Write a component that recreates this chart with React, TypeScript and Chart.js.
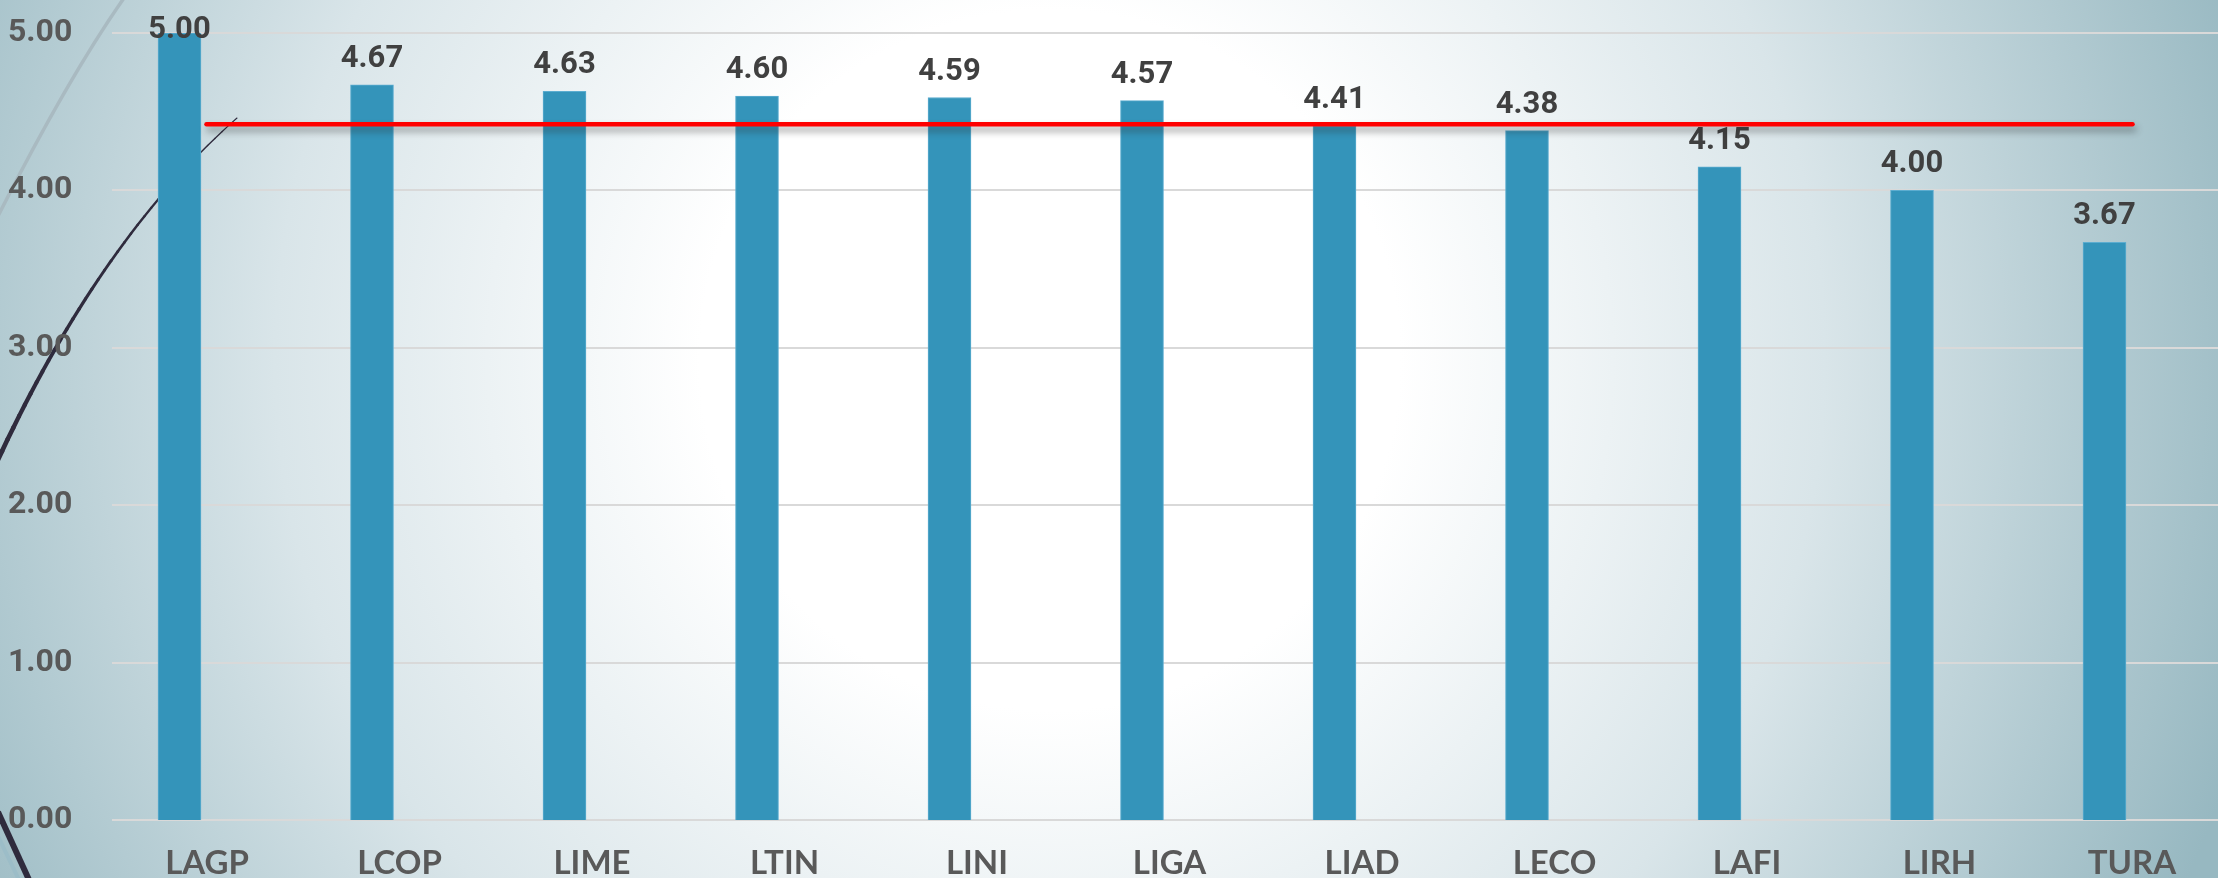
import React, { useEffect, useRef } from "react";
import { Chart, registerables } from "chart.js";
Chart.register(...registerables);

const CATEGORIES = ["LAGP", "LCOP", "LIME", "LTIN", "LINI", "LIGA", "LIAD", "LECO", "LAFI", "LIRH", "TURA"];
const SCORES = [5.0, 4.67, 4.63, 4.6, 4.59, 4.57, 4.41, 4.38, 4.15, 4.0, 3.67];
const Y_TICKS = [0, 1, 2, 3, 4, 5];
const AVERAGE_LINE = 4.42;

const W = 2218;
const H = 878;

export default function App() {
  const ref = useRef<HTMLCanvasElement>(null);

  useEffect(() => {
    const canvas = ref.current!;

    const bgPlugin = {
      id: "bgDecor",
      beforeDraw(chart: any) {
        const { ctx, width, height } = chart;
        ctx.save();
        const g = ctx.createRadialGradient(1050, 360, 0, 1050, 360, 1250);
        g.addColorStop(0, "#ffffff");
        g.addColorStop(0.28, "#ffffff");
        g.addColorStop(0.62, "#d9e5e9");
        g.addColorStop(1, "#97b8c1");
        ctx.fillStyle = g;
        ctx.fillRect(0, 0, width, height);

        // light gray arc top-left
        ctx.strokeStyle = "#a9bac1";
        ctx.lineWidth = 3.5;
        ctx.beginPath();
        ctx.moveTo(124, -2);
        ctx.quadraticCurveTo(68, 78, -2, 216);
        ctx.stroke();

        // dark tapered curve
        const p0 = [-20, 500];
        const c = [88, 250];
        const p1 = [237, 118];
        const N = 40;
        ctx.strokeStyle = "#2f2b3d";
        ctx.lineCap = "round";
        for (let i = 0; i < N; i++) {
          const t0 = i / N;
          const t1 = (i + 1) / N;
          const q = (t: number, k: number) =>
            (1 - t) * (1 - t) * p0[k] + 2 * (1 - t) * t * c[k] + t * t * p1[k];
          ctx.lineWidth = 5 - 4 * t0;
          ctx.beginPath();
          ctx.moveTo(q(t0, 0), q(t0, 1));
          ctx.lineTo(q(t1, 0), q(t1, 1));
          ctx.stroke();
        }

        // bottom-left lines
        ctx.lineCap = "butt";
        ctx.strokeStyle = "#9cbdc8";
        ctx.lineWidth = 4;
        ctx.beginPath();
        ctx.moveTo(-6, 828);
        ctx.lineTo(20, 882);
        ctx.stroke();
        ctx.strokeStyle = "#2f2b3d";
        ctx.lineWidth = 6;
        ctx.beginPath();
        ctx.moveTo(-2, 812);
        ctx.lineTo(30, 882);
        ctx.stroke();
        ctx.restore();
      },
      beforeDatasetsDraw(chart: any) {
        const { ctx } = chart;
        const y = chart.scales.y;
        ctx.save();
        ctx.strokeStyle = "#d9d9d9";
        ctx.lineWidth = 2;
        for (const v of Y_TICKS) {
          const py = Math.round(y.getPixelForValue(v));
          ctx.beginPath();
          ctx.moveTo(112, py);
          ctx.lineTo(W, py);
          ctx.stroke();
        }
        ctx.restore();
      },
      afterDatasetsDraw(chart: any) {
        const { ctx } = chart;
        const meta = chart.getDatasetMeta(0);
        ctx.save();
        ctx.fillStyle = "#404040";
        ctx.font = "bold 31px Roboto";
        ctx.textAlign = "center";
        ctx.textBaseline = "alphabetic";
        meta.data.forEach((el: any, i: number) => {
          const by = Math.max(el.y - 18, 38);
          ctx.fillText(SCORES[i].toFixed(2), el.x, by);
        });

        // average line
        const xs = chart.scales.x;
        const ys = chart.scales.y;
        const ly = ys.getPixelForValue(AVERAGE_LINE);
        const x0 = xs.getPixelForValue(0) + 27;
        const x1 = xs.getPixelForValue(CATEGORIES.length - 1) + 28;
        ctx.shadowColor = "rgba(40,40,40,0.45)";
        ctx.shadowBlur = 7;
        ctx.shadowOffsetX = 2;
        ctx.shadowOffsetY = 5;
        ctx.strokeStyle = "#ff0000";
        ctx.lineWidth = 4.5;
        ctx.lineCap = "round";
        ctx.beginPath();
        ctx.moveTo(x0, ly);
        ctx.lineTo(x1, ly);
        ctx.stroke();
        ctx.restore();
      },
    };

    const chart = new Chart(canvas, {
      type: "bar",
      data: {
        labels: CATEGORIES,
        datasets: [
          {
            data: SCORES,
            backgroundColor: "#3494ba",
            borderColor: "#5cadd0",
            borderWidth: 1,
            barThickness: 43,
          },
        ],
      },
      options: {
        responsive: false,
        animation: false,
        devicePixelRatio: 1,
        layout: { padding: { top: 33, right: 17.25, left: 0, bottom: 0 } },
        plugins: {
          legend: { display: false },
          tooltip: { enabled: false },
          title: { display: false },
        },
        scales: {
          x: {
            grid: { display: false },
            border: { display: false },
            ticks: {
              color: "#595959",
              font: { family: "Lato", weight: "bold", size: 33 },
              padding: 16,
              labelOffset: 27.5,
              autoSkip: false,
              maxRotation: 0,
            },
            afterFit(s: any) {
              s.height = 58;
            },
          },
          y: {
            min: 0,
            max: 5,
            grid: { display: false },
            border: { display: false },
            ticks: {
              color: "#595959",
              font: { family: "Roboto", weight: "bold", size: 32 },
              padding: 3,
              callback: (v: any) => Number(v).toFixed(2),
            },
            afterBuildTicks(s: any) {
              s.ticks = Y_TICKS.map((v) => ({ value: v }));
            },
            afterFit(s: any) {
              s.width = 83.25;
            },
          },
        },
      },
      plugins: [bgPlugin],
    });

    return () => chart.destroy();
  }, []);

  return (
    <div style={{ position: "fixed", left: 0, top: 0, width: W, height: H }}>
      <canvas ref={ref} width={W} height={H} style={{ display: "block" }} />
    </div>
  );
}
